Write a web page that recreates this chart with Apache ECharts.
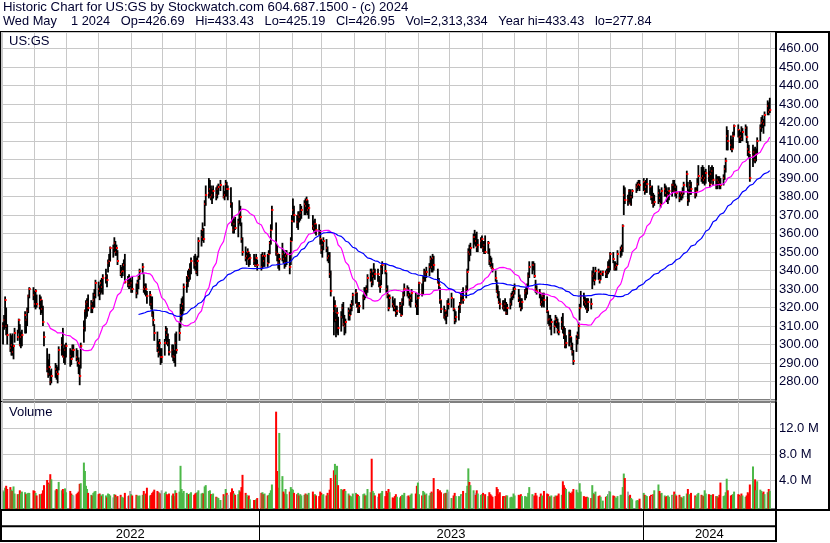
<!DOCTYPE html>
<html><head><meta charset="utf-8">
<script src="https://cdn.jsdelivr.net/npm/echarts@6/dist/echarts.min.js"></script>
<style>html,body{margin:0;padding:0;background:#fff}#c{width:830px;height:543px}</style>
</head><body><div id="c"></div>
<script>
// Each row: [day of month, high, low, close, volume (millions)]
const may22 = [[2,312,300,310,2.4],[3,316,308,313,2.2],[4,326,309,324,2.8],[5,320,305,310,3.1],[6,311,300,305,2.6],[9,306,296,298,2.9],[10,305,294,300,2.5],[11,306,294,296,2.3],[12,300,292,299,3.0],[13,309,301,306,1.9],[16,308,302,304,1.8],[17,314,306,313,1.8],[18,311,299,300,2.4],[19,307,298,304,1.9],[20,308,299,305,2.2],[23,318,306,316,2.1],[24,314,306,313,1.8],[25,320,310,318,1.9],[26,327,317,326,2.0],[27,331,325,330,2.0],[31,331,324,327,2.4]];
const jun22 = [[1,329,320,322,2.3],[2,330,319,329,2.0],[3,327,320,322,1.6],[6,327,319,321,1.8],[7,326,316,324,1.7],[8,324,317,319,1.9],[9,321,310,312,2.4],[10,307,299,304,3.2],[13,298,285,287,4.0],[14,292,282,284,3.6],[15,295,283,288,3.4],[16,286,278,280,4.9],[17,287,279,283,4.1],[21,290,282,287,2.4],[22,289,281,285,2.6],[23,288,279,284,2.5],[24,299,286,297,3.7],[27,304,294,300,2.4],[28,309,293,294,2.6],[29,298,290,293,1.9],[30,300,289,297,2.7]];
const jul22 = [[1,301,293,299,2.1],[5,298,288,294,2.3],[6,297,289,292,1.9],[7,300,293,297,1.7],[8,300,293,297,1.6],[11,298,291,293,1.8],[12,297,288,291,2.0],[13,293,284,290,2.2],[14,289,278,283,3.4],[15,301,287,299,3.5],[18,313,301,309,6.7],[19,319,307,318,5.4],[20,324,314,322,3.1],[21,325,315,323,2.6],[22,327,318,320,2.0],[25,324,317,322,1.7],[26,323,317,320,1.6],[27,328,320,324,2.0],[28,330,320,327,2.2],[29,335,325,333,2.3]];
const aug22 = [[1,334,326,330,1.8],[2,332,324,328,1.9],[3,335,327,333,1.7],[4,336,328,331,1.5],[5,338,327,336,1.8],[8,341,333,337,1.6],[9,338,331,335,1.3],[10,346,339,344,1.9],[11,349,342,345,1.8],[12,353,345,352,1.6],[15,354,347,352,1.3],[16,358,350,355,1.8],[17,356,348,350,1.7],[18,354,348,352,1.4],[19,351,343,345,1.5],[22,343,337,338,1.7],[23,342,336,339,1.4],[24,344,337,340,1.3],[25,346,340,343,1.2],[26,349,333,334,2.0],[29,337,331,334,1.5],[30,338,330,332,1.6],[31,336,331,332,2.3]];
const sep22 = [[1,335,328,333,1.8],[2,337,328,330,1.6],[6,333,325,328,1.7],[7,335,327,333,1.6],[8,337,330,336,1.5],[9,341,335,340,1.6],[12,344,338,342,1.7],[13,338,328,330,2.3],[14,333,327,331,1.7],[15,333,326,330,1.9],[16,329,322,326,2.8],[19,329,321,327,1.6],[20,326,319,322,1.7],[21,326,315,316,2.0],[22,318,310,313,2.2],[23,311,302,306,2.5],[26,307,296,298,2.3],[27,302,293,296,2.1],[28,303,294,301,2.0],[29,298,289,293,1.9],[30,298,290,293,2.4]];
const oct22 = [[3,303,294,301,2.0],[4,310,302,308,2.2],[5,309,300,305,1.8],[6,306,299,301,1.6],[7,303,294,296,1.9],[10,300,293,297,1.6],[11,300,291,294,1.9],[12,297,290,293,1.5],[13,306,288,301,2.4],[14,307,295,297,2.0],[17,312,302,306,2.2],[18,322,309,316,6.2],[19,325,313,320,2.6],[20,326,316,322,2.0],[21,333,318,331,2.3],[24,337,328,333,2.0],[25,340,331,337,1.8],[26,341,334,336,1.8],[27,344,335,341,1.9],[28,347,338,345,2.1],[31,348,341,344,1.7]];
const nov22 = [[1,349,340,343,1.9],[2,347,338,339,2.0],[3,348,337,345,2.1],[4,358,347,356,2.4],[7,362,353,358,1.9],[8,366,356,362,2.0],[9,363,355,357,1.9],[10,378,364,376,3.0],[11,386,375,381,3.2],[14,390,379,382,2.3],[15,389,380,384,2.4],[16,386,378,380,1.8],[17,384,376,381,1.7],[18,386,379,383,1.9],[21,385,378,381,1.4],[22,386,379,384,1.3],[23,387,381,385,1.2],[25,389,383,386,0.9],[28,386,379,380,1.8],[29,383,378,381,1.5],[30,389,380,387,2.6]];
const dec22 = [[1,388,380,384,2.0],[2,386,378,384,1.7],[5,385,374,376,2.1],[6,377,364,366,2.7],[7,369,360,362,2.3],[8,368,360,365,1.9],[9,369,362,363,1.7],[12,368,358,366,1.8],[13,378,365,371,2.4],[14,375,364,369,2.2],[15,366,355,357,2.9],[16,358,348,350,4.8],[19,353,345,347,2.0],[20,350,343,348,1.7],[21,352,346,350,1.4],[22,350,342,346,1.6],[23,349,343,347,1.0],[27,349,343,345,0.9],[28,347,342,343,0.9],[29,349,343,347,1.0],[30,346,340,343,1.2]];
const jan23 = [[3,349,340,342,2.0],[4,350,341,348,2.1],[5,348,342,345,1.8],[6,350,342,348,1.9],[9,349,342,344,1.6],[10,351,344,349,1.7],[11,356,349,355,2.0],[12,365,354,362,2.4],[13,375,362,373,3.3],[17,366,348,350,14.6],[18,354,345,349,5.4],[19,349,341,344,2.8],[20,349,340,346,11.3],[23,355,345,349,4.6],[24,351,344,346,2.2],[25,349,341,344,1.9],[26,351,342,348,2.6],[27,351,343,349,1.8],[30,350,338,342,2.2],[31,358,343,356,2.9]];
const feb23 = [[1,370,356,367,2.6],[2,379,367,373,2.5],[3,375,366,370,2.0],[6,370,363,366,1.8],[7,372,362,370,2.0],[8,372,366,369,1.6],[9,376,367,371,1.8],[10,375,368,373,1.6],[13,378,370,376,1.7],[14,379,370,375,1.9],[15,380,371,378,1.8],[16,378,370,373,1.7],[17,376,368,374,2.0],[21,370,362,364,2.2],[22,367,361,363,1.7],[23,368,360,365,1.8],[24,365,359,362,1.6],[27,365,359,360,1.5],[28,362,354,357,2.2]];
const mar23 = [[1,357,349,351,2.0],[2,356,347,354,1.7],[3,358,351,356,1.8],[6,357,350,352,1.6],[7,353,345,347,2.0],[8,350,344,348,1.7],[9,350,336,338,2.5],[10,340,326,329,4.3],[13,326,305,318,5.5],[14,324,312,321,6.5],[15,317,304,313,4.8],[16,320,306,317,6.2],[17,315,305,309,3.2],[20,318,307,315,2.6],[21,322,314,320,2.4],[22,323,310,311,2.5],[23,316,305,310,2.6],[24,314,306,312,2.3],[27,320,313,318,1.9],[28,319,313,316,1.6],[29,322,316,320,1.5],[30,324,318,322,1.4],[31,328,321,327,1.9]];
const apr23 = [[3,330,322,328,2.0],[4,328,320,322,1.8],[5,323,317,320,1.7],[6,323,317,321,1.5],[10,327,319,325,1.8],[11,331,324,328,1.9],[12,331,325,327,1.6],[13,332,326,330,1.6],[14,338,328,336,2.6],[17,341,334,339,2.1],[18,341,331,334,7.3],[19,339,332,337,2.3],[20,344,336,340,2.0],[21,341,335,338,1.6],[24,341,334,338,1.4],[25,337,331,333,1.9],[26,335,328,331,1.8],[27,343,332,341,2.0],[28,345,338,343,2.3]];
const may23 = [[1,344,338,340,1.5],[2,339,328,330,2.3],[3,332,325,327,2.0],[4,327,318,320,2.6],[5,327,320,325,2.1],[8,326,320,322,1.3],[9,324,318,321,1.2],[10,325,318,320,1.5],[11,321,315,317,1.8],[12,321,316,318,1.4],[15,323,317,321,1.3],[16,321,315,316,1.5],[17,325,316,323,1.7],[18,329,321,327,1.6],[19,333,326,330,2.0],[22,332,326,330,1.5],[23,331,325,327,1.6],[24,328,321,324,1.4],[25,327,320,325,1.7],[26,330,323,328,1.9],[30,328,320,322,1.9],[31,324,316,321,3.1]];
const jun23 = [[1,327,316,325,3.6],[2,334,326,333,1.8],[5,333,326,328,1.6],[6,337,327,335,2.3],[7,341,334,339,2.1],[8,340,334,338,1.7],[9,342,336,339,1.9],[12,344,337,342,1.6],[13,348,341,346,2.0],[14,347,339,342,2.2],[15,349,339,347,2.0],[16,348,340,343,4.3],[20,341,333,334,2.6],[21,336,330,332,2.2],[22,331,322,324,2.4],[23,324,317,319,2.1],[26,321,314,315,1.9],[27,319,313,318,2.0],[28,318,311,316,2.0],[29,324,315,322,2.5],[30,325,319,322,2.2]];
const jul23 = [[3,328,320,325,1.2],[5,325,318,319,1.6],[6,319,311,313,2.0],[7,318,312,315,1.5],[10,321,313,319,1.5],[11,323,317,322,1.4],[12,328,322,326,1.8],[13,329,324,326,1.6],[14,331,322,324,2.3],[17,332,325,330,2.0],[18,341,329,339,3.1],[19,352,340,350,5.8],[20,354,345,349,3.7],[21,355,348,352,3.2],[24,360,352,358,2.4],[25,362,354,358,2.0],[26,360,353,356,1.7],[27,361,350,353,2.4],[28,357,350,354,1.9],[31,358,352,356,1.7]];
const aug23 = [[1,359,352,357,1.8],[2,356,350,352,2.0],[3,356,349,354,1.6],[4,359,349,350,1.8],[7,356,349,355,1.5],[8,352,343,345,2.1],[9,348,342,344,1.8],[10,347,341,342,1.6],[11,344,339,341,1.4],[14,340,334,336,1.5],[15,335,328,329,2.9],[16,332,325,327,2.6],[17,329,322,323,1.8],[18,325,319,322,2.1],[21,324,319,321,1.5],[22,324,318,320,1.5],[23,325,318,322,1.3],[24,323,316,317,1.6],[25,322,316,320,1.6],[28,325,319,322,1.3],[29,328,321,326,1.4],[30,329,324,327,1.3],[31,331,325,328,1.9]];
const sep23 = [[1,333,327,330,1.6],[5,330,323,325,1.7],[6,327,320,323,1.6],[7,325,318,320,1.8],[8,325,319,323,1.5],[11,330,324,328,1.5],[12,331,325,329,1.4],[13,333,327,331,1.4],[14,339,331,337,2.0],[15,345,336,342,2.9],[18,345,338,343,1.8],[19,345,340,343,1.5],[20,344,336,337,1.6],[21,335,328,330,2.0],[22,332,327,329,1.6],[25,330,325,328,1.4],[26,328,321,322,1.9],[27,326,320,323,1.6],[28,328,321,326,1.5],[29,328,320,324,2.3]];
const oct23 = [[2,326,317,318,1.9],[3,318,311,313,1.8],[4,316,310,314,1.5],[5,316,308,310,1.4],[6,314,305,312,1.6],[9,313,306,310,1.4],[10,316,310,314,1.6],[11,315,309,312,1.5],[12,314,306,308,1.6],[13,312,305,307,1.9],[16,315,308,312,1.7],[17,317,306,309,3.8],[18,310,303,305,3.2],[19,309,298,300,2.8],[20,305,298,301,2.6],[23,308,299,306,2.2],[24,308,301,304,2.0],[25,304,297,299,1.9],[26,301,294,296,2.2],[27,297,289,291,2.6],[30,305,296,303,2.5],[31,307,300,305,2.1]];
const nov23 = [[1,312,303,310,2.0],[2,322,313,320,3.5],[3,329,320,326,2.2],[6,328,321,324,1.5],[7,326,320,323,1.4],[8,325,319,322,1.3],[9,325,317,319,1.4],[10,325,318,323,1.3],[13,325,319,322,1.2],[14,340,330,337,3.2],[15,342,334,338,2.0],[16,339,332,335,1.8],[17,342,335,340,2.2],[20,341,335,339,1.5],[21,339,333,335,1.6],[22,340,335,338,1.4],[24,340,337,339,0.8],[27,340,336,338,1.4],[28,341,336,339,1.5],[29,345,338,342,1.8],[30,346,339,342,2.3]];
const dec23 = [[1,350,340,349,2.2],[4,350,344,346,1.6],[5,345,340,341,1.5],[6,345,340,342,1.3],[7,344,340,343,1.2],[8,351,343,349,1.5],[11,353,347,351,1.7],[12,354,348,352,1.7],[13,365,350,364,2.9],[14,386,370,381,5.0],[15,385,376,378,4.3],[18,381,375,378,2.2],[19,384,377,383,1.5],[20,384,376,376,1.7],[21,381,375,380,1.2],[22,384,379,383,1.0],[26,387,382,385,0.8],[27,388,383,386,0.9],[28,389,384,387,0.8],[29,389,383,386,1.1]];
const jan24 = [[2,390,383,388,2.0],[3,388,381,383,1.7],[4,389,382,385,1.6],[5,390,382,387,1.5],[8,389,381,385,1.5],[9,385,378,380,1.7],[10,386,376,380,1.5],[11,382,374,376,1.8],[12,381,375,377,2.4],[16,386,376,382,3.3],[17,384,377,379,2.3],[18,382,374,376,1.9],[19,385,376,383,2.0],[22,387,380,384,1.6],[23,386,380,382,1.4],[24,385,377,379,1.5],[25,383,376,381,1.6],[26,385,378,383,1.4],[29,387,380,386,1.7],[30,389,382,386,1.6],[31,389,382,383,2.2]];
const feb24 = [[1,387,380,385,1.8],[2,386,379,382,1.6],[5,383,377,379,1.7],[6,383,378,382,1.4],[7,383,378,381,1.3],[8,385,379,382,1.2],[9,388,381,386,1.5],[12,394,385,392,1.9],[13,388,375,378,2.6],[14,384,377,382,1.8],[15,389,381,386,1.7],[16,388,381,384,2.0],[20,385,379,381,1.6],[21,385,380,383,1.4],[22,390,383,387,1.8],[23,397,386,391,2.0],[26,396,388,390,1.7],[27,397,387,391,1.6],[28,396,387,389,1.5],[29,394,386,390,2.4]];
const mar24 = [[1,395,387,393,1.9],[4,397,388,391,1.8],[5,394,385,387,1.7],[6,396,387,392,1.6],[7,397,389,394,1.7],[8,396,386,389,1.8],[11,392,384,386,1.5],[12,391,384,389,1.5],[13,391,386,388,1.3],[14,391,384,387,1.7],[15,390,384,386,3.6],[18,392,386,390,1.5],[19,397,389,395,1.6],[20,401,393,399,2.1],[21,418,405,413,4.2],[22,416,405,410,2.4],[25,413,405,408,1.6],[26,411,404,406,1.7],[27,415,406,413,1.8],[28,419,413,418,2.2]];
const apr24 = [[1,419,412,416,1.8],[2,416,409,412,1.7],[3,415,409,413,1.5],[4,418,410,411,1.9],[5,417,410,415,1.6],[8,419,413,417,1.4],[9,418,409,412,1.6],[10,410,402,406,2.1],[11,408,401,404,1.9],[12,403,388,390,3.3],[15,408,396,402,6.1],[16,406,399,404,3.0],[17,407,398,400,4.1],[18,406,399,403,2.4],[19,412,403,410,3.8],[22,419,410,417,2.5],[23,423,415,420,2.3],[24,424,417,421,2.0],[25,422,414,419,2.2],[26,426,418,424,1.8],[29,432,424,429,2.1],[30,431,424,426,2.6]];
const may24 = [[1,433.43,425.19,426.95,2.31]];

const monthList = [[2022,5,may22],[2022,6,jun22],[2022,7,jul22],[2022,8,aug22],[2022,9,sep22],[2022,10,oct22],[2022,11,nov22],[2022,12,dec22],
  [2023,1,jan23],[2023,2,feb23],[2023,3,mar23],[2023,4,apr23],[2023,5,may23],[2023,6,jun23],[2023,7,jul23],[2023,8,aug23],[2023,9,sep23],[2023,10,oct23],[2023,11,nov23],[2023,12,dec23],
  [2024,1,jan24],[2024,2,feb24],[2024,3,mar24],[2024,4,apr24],[2024,5,may24]];
const yearLabels = ['2022','2023','2024'];
const priceTicks = [280,460];       // first and last labelled price
const volTicks = [4,8,12];          // labelled volume levels (M)
const maShort = 30, maLong = 90;

const headerLine1 = 'Historic Chart for US:GS by Stockwatch.com 604.687.1500 - (c) 2024';
const headerLine2 = 'Wed May    1 2024   Op=426.69   Hi=433.43   Lo=425.19   Cl=426.95   Vol=2,313,334   Year hi=433.43   lo=277.84';

// ---- build arrays ----
const times=[], highs=[], lows=[], closes=[], vols=[];
monthList.forEach(([y,m,rows]) => rows.forEach(r => {
  times.push(new Date(y,m-1,r[0]).getTime()); highs.push(r[1]); lows.push(r[2]); closes.push(r[3]); vols.push(r[4]);
}));
const barData = times.map((t,i)=>[t,highs[i],lows[i],closes[i]]);
const volColors = closes.map((c,i)=> i===0 || c===closes[i-1] ? '#a8a8a8' : (c>closes[i-1] ? '#4cb848' : '#ff0000'));
const volData = times.map((t,i)=>[t,vols[i]]);
function sma(n){ const out=[]; let s=0; for(let i=0;i<closes.length;i++){ s+=closes[i]; if(i>=n) s-=closes[i-n]; if(i>=n-1) out.push([times[i], s/n]); } return out; }

const xMin = new Date(2022,3,30,2).getTime();
const xMax = new Date(2024,4,6,22).getTime();
const yearCells = yearLabels.map(y => [Math.max(new Date(+y,0,1).getTime(), xMin), Math.min(new Date(+y+1,0,1).getTime(), xMax), y]);

const FONT = '"Liberation Sans", Arial, sans-serif';
const TXT = '#000030';
const GRIDC = '#c8c8c8';
const DAY = 86400000;

const timeAxis = (gi, split) => ({gridIndex:gi, type:'time', min:xMin, max:xMax, minInterval:40*DAY, maxInterval:40*DAY,
  axisLine:{show:false}, axisTick:{show:false}, axisLabel:{show:false},
  splitLine:{show:split, lineStyle:{color:GRIDC, width:1}}});

const chart = echarts.init(document.getElementById('c'), null, {renderer:'canvas'});
chart.setOption({
  animation:false,
  backgroundColor:'#fff',
  title:[
    {text:headerLine1, left:3, top:0, padding:0, textStyle:{fontFamily:FONT, fontSize:13.2, fontWeight:'normal', color:TXT, lineHeight:14}},
    {text:headerLine2, left:3, top:14, padding:0, textStyle:{fontFamily:FONT, fontSize:12.8, fontWeight:'normal', color:TXT, lineHeight:14}},
    {text:'US:GS', left:9, top:34, padding:0, textStyle:{fontFamily:FONT, fontSize:13, fontWeight:'normal', color:TXT, lineHeight:14}},
    {text:'Volume', left:9, top:405, padding:0, textStyle:{fontFamily:FONT, fontSize:13, fontWeight:'normal', color:TXT, lineHeight:14}}
  ],
  grid:[
    {left:1, right:54, top:32, height:368, show:true, borderColor:'#000', borderWidth:1, backgroundColor:'transparent'},
    {left:1, right:54, top:402, height:107, show:true, borderColor:'#000', borderWidth:1},
    {left:1, right:54, top:510, height:31, show:true, borderColor:'#000', borderWidth:2},
    {left:1, right:1, top:32, height:478, show:true, borderColor:'#000', borderWidth:2}
  ],
  xAxis:[timeAxis(0,true), timeAxis(1,true), timeAxis(2,false), {gridIndex:3, type:'value', show:false}],
  yAxis:[
    {gridIndex:0, type:'value', position:'right', min:270, max:469, interval:10,
      axisLine:{show:true, lineStyle:{color:'#000', width:2}}, axisTick:{show:false},
      axisLabel:{margin:3, fontFamily:FONT, fontSize:13, color:TXT,
        formatter:v => (v>=priceTicks[0] && v<=priceTicks[1] && Math.abs(v%10)<1e-6) ? v.toFixed(2) : ''},
      splitLine:{show:true, lineStyle:{color:GRIDC, width:1}}},
    {gridIndex:1, type:'value', position:'right', min:-0.5, max:16.1,
      axisLine:{show:true, lineStyle:{color:'#000', width:2}},
      axisTick:{show:false, customValues:volTicks},
      axisLabel:{margin:3, fontFamily:FONT, fontSize:13, color:TXT, customValues:volTicks, formatter:v => v.toFixed(1)+' M'},
      splitLine:{show:true, lineStyle:{color:GRIDC, width:1}}},
    {gridIndex:2, type:'value', min:0, max:2, show:false},
    {gridIndex:3, type:'value', show:false}
  ],
  series:[
    {type:'custom', xAxisIndex:0, yAxisIndex:0, clip:true, z:3, data:barData, encode:{x:0, y:[1,2,3]},
      renderItem:(params, api) => {
        const t = api.value(0);
        const pH = api.coord([t, api.value(1)]);
        const pL = api.coord([t, api.value(2)]);
        const pC = api.coord([t, api.value(3)]);
        return {type:'group', children:[
          {type:'rect', shape:{x:pH[0]-0.9, y:pH[1], width:1.8, height:Math.max(1, pL[1]-pH[1])}, style:{fill:'#000'}},
          {type:'rect', shape:{x:pC[0]-0.5, y:Math.round(pC[1])-1, width:2, height:2}, style:{fill:'#ff0000'}}
        ]};
      }},
    {type:'line', xAxisIndex:0, yAxisIndex:0, data:sma(maShort), showSymbol:false, z:4,
      lineStyle:{color:'#ff00ff', width:1.2}, itemStyle:{color:'#ff00ff'}},
    {type:'line', xAxisIndex:0, yAxisIndex:0, data:sma(maLong), showSymbol:false, z:4,
      lineStyle:{color:'#0000ff', width:1.2}, itemStyle:{color:'#0000ff'}},
    {type:'custom', xAxisIndex:1, yAxisIndex:1, clip:true, z:3, data:volData, encode:{x:0, y:1},
      renderItem:(params, api) => {
        const t = api.value(0);
        const top = api.coord([t, api.value(1)]);
        const base = api.coord([t, -0.5]);
        return {type:'rect', shape:{x:top[0]-1, y:top[1], width:2, height:base[1]-top[1]}, style:{fill:volColors[params.dataIndex]}};
      }},
    {type:'custom', xAxisIndex:2, yAxisIndex:2, z:3, data:yearCells, encode:{x:[0,1]},
      renderItem:(params, api) => {
        const x0 = api.coord([api.value(0), 2])[0];
        const x1 = api.coord([api.value(1), 2])[0];
        const yTop = api.coord([api.value(0), 2])[1];
        const yMid = api.coord([api.value(0), 0.95])[1];
        const yBot = api.coord([api.value(0), 0])[1];
        const ch = [
          {type:'line', shape:{x1:x0, y1:yMid, x2:x1, y2:yMid}, style:{stroke:'#000', lineWidth:2}},
          {type:'text', x:(x0+x1)/2, y:(yMid+yBot)/2+0.5, style:{text:yearLabels[params.dataIndex], fontFamily:FONT, fontSize:13, fill:'#000', align:'center', verticalAlign:'middle'}}
        ];
        if (params.dataIndex < yearCells.length-1) ch.push({type:'line', shape:{x1:Math.round(x1)+0.5, y1:yTop, x2:Math.round(x1)+0.5, y2:yBot}, style:{stroke:'#000', lineWidth:1}});
        return {type:'group', children:ch};
      }}
  ]
});
</script></body></html>
